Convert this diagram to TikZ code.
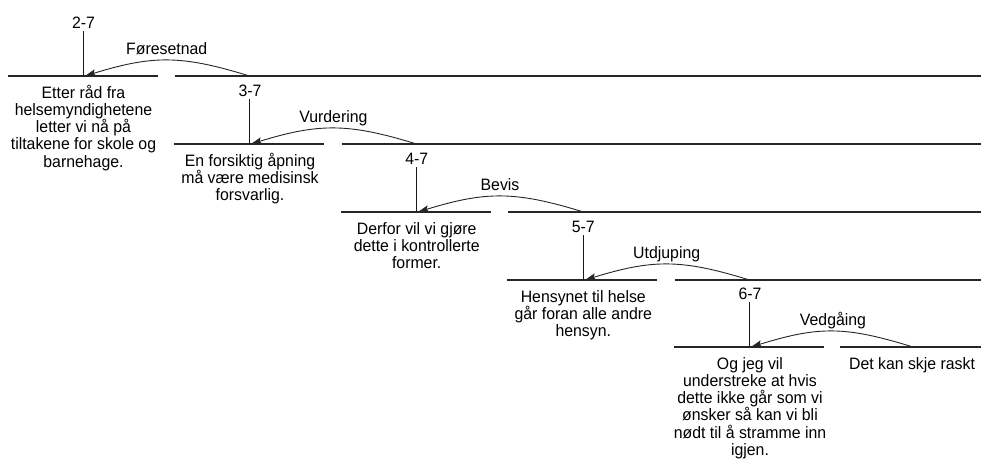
\documentclass[tikz,border=0pt]{standalone}
\usepackage{fontspec}
\setmainfont{Liberation Sans}[FakeStretch=0.96]
\usetikzlibrary{arrows.meta}
\begin{document}
\begin{tikzpicture}[x=1pt,y=-1pt,
  seg/.style={line width=1.1pt, draw=black!85},
  stem/.style={line width=1.1pt, draw=black!90},
  rel/.style={line width=0.9pt, draw=black!85, -{Stealth[length=11pt,width=7pt,inset=2pt]}},
  txt/.style={align=center, anchor=base, inner sep=0pt, font=\fontsize{16.5}{17.3}\selectfont},
  lbl/.style={anchor=base, inner sep=0pt, font=\fontsize{16.5}{17.3}\selectfont}]
\useasboundingbox (0,0) rectangle (981,466);
\fill[white] (0,0) rectangle (981,466);

% text nodes are placed at the baseline of their LAST line (first line + (n-1)*17.3)

% ---------- level 1 ----------
\coordinate (b1) at (83.5,76);
\coordinate (t1) at (83.5,31);
\coordinate (l1a) at (7.5,76);  \coordinate (l1b) at (157.5,76);
\coordinate (r1a) at (175,76);  \coordinate (r1b) at (981,76);
\coordinate (s1) at (249.5,76);
\node[lbl] (lab1) at (83.5,28) {2-7};
\node[txt] (n1) at (83.5,167.2) {Etter råd fra\\helsemyndighetene\\letter vi nå på\\tiltakene for skole og\\barnehage.};
\node[lbl] (rl1) at (166.7,54) {Føresetnad};

% ---------- level 2 ----------
\coordinate (b2) at (249.5,144);
\coordinate (t2) at (249.5,99);
\coordinate (l2a) at (174,144);  \coordinate (l2b) at (324,144);
\coordinate (r2a) at (341.7,144); \coordinate (r2b) at (981,144);
\coordinate (s2) at (416.5,144);
\node[lbl] (lab2) at (250,96) {3-7};
\node[txt] (n2) at (250,200.6) {En forsiktig åpning\\må være medisinsk\\forsvarlig.};
\node[lbl] (rl2) at (333.4,122) {Vurdering};

% ---------- level 3 ----------
\coordinate (b3) at (416.5,212);
\coordinate (t3) at (416.5,167);
\coordinate (l3a) at (340.7,212);  \coordinate (l3b) at (490.7,212);
\coordinate (r3a) at (508.3,212);  \coordinate (r3b) at (981,212);
\coordinate (s3) at (583.5,212);
\node[lbl] (lab3) at (416.7,164) {4-7};
\node[txt] (n3) at (416.7,268.6) {Derfor vil vi gjøre\\dette i kontrollerte\\former.};
\node[lbl] (rl3) at (500,190) {Bevis};

% ---------- level 4 ----------
\coordinate (b4) at (583.5,280);
\coordinate (t4) at (583.5,235);
\coordinate (l4a) at (507.3,280);  \coordinate (l4b) at (657.3,280);
\coordinate (r4a) at (674.5,280);  \coordinate (r4b) at (981,280);
\coordinate (s4) at (749.5,280);
\node[lbl] (lab4) at (583.3,232) {5-7};
\node[txt] (n4) at (583.3,336.6) {Hensynet til helse\\går foran alle andre\\hensyn.};
\node[lbl] (rl4) at (666.7,258) {Utdjuping};

% ---------- level 5 ----------
\coordinate (b5) at (749.5,347);
\coordinate (t5) at (749.5,302);
\coordinate (l5a) at (674,347);  \coordinate (l5b) at (824,347);
\coordinate (r5a) at (840,347);  \coordinate (r5b) at (981,347);
\coordinate (s5) at (913,347);
\node[lbl] (lab5) at (750,299) {6-7};
\node[txt] (n5) at (750,455.5) {Og jeg vil\\understreke at hvis\\dette ikke går som vi\\ønsker så kan vi bli\\nødt til å stramme inn\\igjen.};
\node[txt] (n6) at (912,369) {Det kan skje raskt};
\node[lbl] (rl5) at (833,325) {Vedgåing};

% ---------- lines ----------
\foreach \i in {1,...,5}{
  \draw[seg] (l\i a) -- (l\i b);
  \draw[seg] (r\i a) -- (r\i b);
  \draw[stem] (t\i) -- (b\i);
  \draw[rel] (s\i) .. controls +(-68,-21) and +(68,-21) .. ([xshift=1.5pt]b\i);
}
\end{tikzpicture}
\end{document}
